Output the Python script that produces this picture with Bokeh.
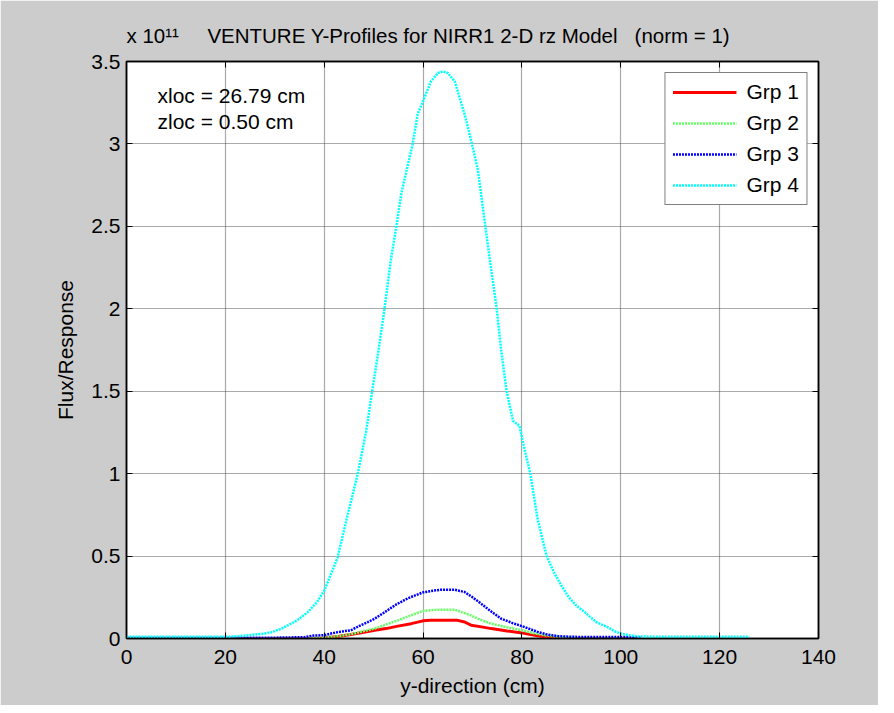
from bokeh.plotting import figure
from bokeh.models import Range1d, FixedTicker, LinearAxis, Label
from bokeh.embed import file_html
from bokeh.resources import INLINE

# ---- data (flux in units of 1e11) ----
y_grp1 = [0, 38, 40, 43, 45.4, 48, 50.2, 52.5, 54.9, 57.6, 60, 61.5, 67, 68.4, 69.7, 71.5, 73.8, 77, 80, 82, 84.5, 87, 90, 104]
flux_grp1 = [0, 0, 0.003, 0.013, 0.024, 0.038, 0.05, 0.06, 0.075, 0.09, 0.107, 0.11, 0.11, 0.1, 0.081, 0.072, 0.06, 0.046, 0.034, 0.022, 0.01, 0.002, 0, 0]

y_grp2 = [0, 36, 40, 43, 45.4, 48, 50.2, 52.5, 54.9, 57.5, 60, 63, 66.4, 69.7, 71.5, 73.8, 77, 80, 82, 84.5, 88.6, 92, 104]
flux_grp2 = [0, 0, 0.005, 0.015, 0.026, 0.045, 0.06, 0.085, 0.11, 0.14, 0.167, 0.175, 0.175, 0.14, 0.115, 0.09, 0.068, 0.05, 0.035, 0.02, 0.006, 0, 0]

y_grp3 = [0, 20, 30, 36, 38, 40, 41.4, 43, 45.4, 47, 48.8, 50.2, 52, 54.5, 57, 60, 62, 63.7, 66.4, 68.4, 70, 71.8, 73.5, 75.8, 78, 80, 83.2, 85, 87.3, 90, 104]
flux_grp3 = [0.005, 0.005, 0.005, 0.008, 0.018, 0.02, 0.03, 0.04, 0.05, 0.075, 0.099, 0.12, 0.155, 0.205, 0.245, 0.28, 0.29, 0.296, 0.296, 0.282, 0.25, 0.21, 0.17, 0.12, 0.095, 0.075, 0.04, 0.025, 0.014, 0.01, 0.008]

y_grp4 = [0, 10, 20, 21.8, 24, 25.9, 28, 29.3, 31, 32.6, 34.5, 36.7, 38.5, 40, 42.7, 44.5, 46.8, 48.5, 49.7, 51, 52.2, 53.5, 54.6, 55.6, 57.9, 58.9, 60, 61.6, 63, 64, 65, 66.4, 68.4, 69.9, 71.1, 72.6, 73.5, 74.9, 75.8, 76.9, 78.2, 79.5, 80.5, 81.7, 83.2, 85, 86.5, 88, 89.5, 91, 92.7, 95, 97.4, 99, 100.8, 103.5, 110, 126]
flux_grp4 = [0.01, 0.01, 0.01, 0.012, 0.018, 0.024, 0.03, 0.038, 0.055, 0.079, 0.11, 0.16, 0.22, 0.29, 0.49, 0.72, 1.0, 1.26, 1.5, 1.75, 2.0, 2.3, 2.5, 2.7, 3.0, 3.18, 3.26, 3.38, 3.43, 3.44, 3.43, 3.38, 3.18, 3.0, 2.84, 2.5, 2.3, 2.0, 1.75, 1.5, 1.32, 1.29, 1.15, 1.0, 0.72, 0.5, 0.4, 0.32, 0.25, 0.2, 0.16, 0.1, 0.068, 0.04, 0.024, 0.012, 0.01, 0.01]

series_names = ["Grp 1", "Grp 2", "Grp 3", "Grp 4"]
x_ticks = [0, 20, 40, 60, 80, 100, 120, 140]
y_ticks = [0, 0.5, 1, 1.5, 2, 2.5, 3, 3.5]
y_tick_labels = ["0", "0.5", "1", "1.5", "2", "2.5", "3", "3.5"]

scale_text = "x 10\u00b9\u00b9"
title_text = "VENTURE Y-Profiles for NIRR1 2-D rz Model\u00a0\u00a0\u00a0(norm = 1)"
note1 = "xloc = 26.79 cm"
note2 = "zloc = 0.50 cm"

FONT = "Liberation Sans"
FS = "21px"

p = figure(width=878, height=705, output_backend="svg", toolbar_location=None,
           x_range=Range1d(0, 140), y_range=Range1d(0, 3.5),
           min_border_left=126, min_border_right=60, min_border_top=61, min_border_bottom=67,
           background_fill_color="white", border_fill_color="#cccccc",
           outline_line_color="black", outline_line_width=1.5)

p.title.text = scale_text + "\u00a0" * 5 + title_text
p.title.align = "left"
p.title.text_font = FONT
p.title.text_font_size = "20.5px"
p.title.text_font_style = "normal"
p.title.text_color = "black"
p.title.standoff = 30

# axes
for ax in (p.xaxis[0], p.yaxis[0]):
    ax.major_tick_in = 6
    ax.major_tick_out = 0
    ax.minor_tick_line_color = None
    ax.axis_line_color = "black"
    ax.axis_line_width = 1.5
    ax.major_tick_line_color = "black"
    ax.major_label_text_font = FONT
    ax.major_label_text_font_size = FS
    ax.major_label_text_color = "black"
    ax.axis_label_text_font = FONT
    ax.axis_label_text_font_size = FS
    ax.axis_label_text_font_style = "normal"
    ax.axis_label_text_color = "black"

p.xaxis[0].ticker = FixedTicker(ticks=x_ticks)
p.yaxis[0].ticker = FixedTicker(ticks=y_ticks)
p.yaxis[0].major_label_overrides = {t: s for t, s in zip(y_ticks, y_tick_labels)}
p.xaxis[0].axis_label = "y-direction (cm)"
p.yaxis[0].axis_label = "Flux/Response"
p.xaxis[0].major_label_standoff = 11
p.xaxis[0].axis_label_standoff = 7
p.yaxis[0].major_label_standoff = 6
p.yaxis[0].axis_label_standoff = 11

top_ax = LinearAxis(ticker=FixedTicker(ticks=x_ticks), major_tick_in=6, major_tick_out=0,
                    minor_tick_line_color=None, major_label_text_color=None,
                    major_label_text_font_size="1px", major_label_standoff=0,
                    axis_line_color="black", axis_line_width=1.5)
right_ax = LinearAxis(ticker=FixedTicker(ticks=y_ticks), major_tick_in=6, major_tick_out=0,
                      minor_tick_line_color=None, major_label_text_color=None,
                      major_label_text_font_size="1px", major_label_standoff=0,
                      axis_line_color="black", axis_line_width=1.5)
p.add_layout(top_ax, "above")
p.add_layout(right_ax, "right")

# grid
p.xgrid.ticker = FixedTicker(ticks=x_ticks)
p.ygrid.ticker = FixedTicker(ticks=y_ticks)
for g in (p.xgrid[0], p.ygrid[0]):
    g.grid_line_color = "#444444"
    g.grid_line_width = 1.2
    g.grid_line_dash = "1 1"
    g.grid_line_alpha = 0.9

# lines
p.line(y_grp1, flux_grp1, color="#ff0000", line_width=3, legend_label=series_names[0])
p.line(y_grp2, flux_grp2, color="#66ff66", line_width=2.5, line_dash="2 1", legend_label=series_names[1])
p.line(y_grp3, flux_grp3, color="#0000ff", line_width=2.5, line_dash="2 1", legend_label=series_names[2])
p.line(y_grp4, flux_grp4, color="#00ffff", line_width=2.5, line_dash="2 1", legend_label=series_names[3])

lg = p.legend[0]
lg.location = "top_right"
lg.margin = 11
lg.padding = 7
lg.spacing = 7
lg.glyph_width = 64
lg.glyph_height = 20
lg.label_height = 20
lg.label_standoff = 10
lg.label_text_font = FONT
lg.label_text_font_size = FS
lg.label_text_color = "black"
lg.border_line_color = "black"
lg.border_line_width = 1.5
lg.background_fill_color = "white"
lg.background_fill_alpha = 1.0

# in-plot notes
p.add_layout(Label(x=0, y=3.5, x_offset=31, y_offset=-34, text=note1, text_align="left",
                   text_baseline="alphabetic", text_font=FONT, text_font_size=FS, text_color="black"))
p.add_layout(Label(x=0, y=3.5, x_offset=31, y_offset=-60, text=note2, text_align="left",
                   text_baseline="alphabetic", text_font=FONT, text_font_size=FS, text_color="black"))

open("out.html", "w").write(file_html(p, INLINE))
